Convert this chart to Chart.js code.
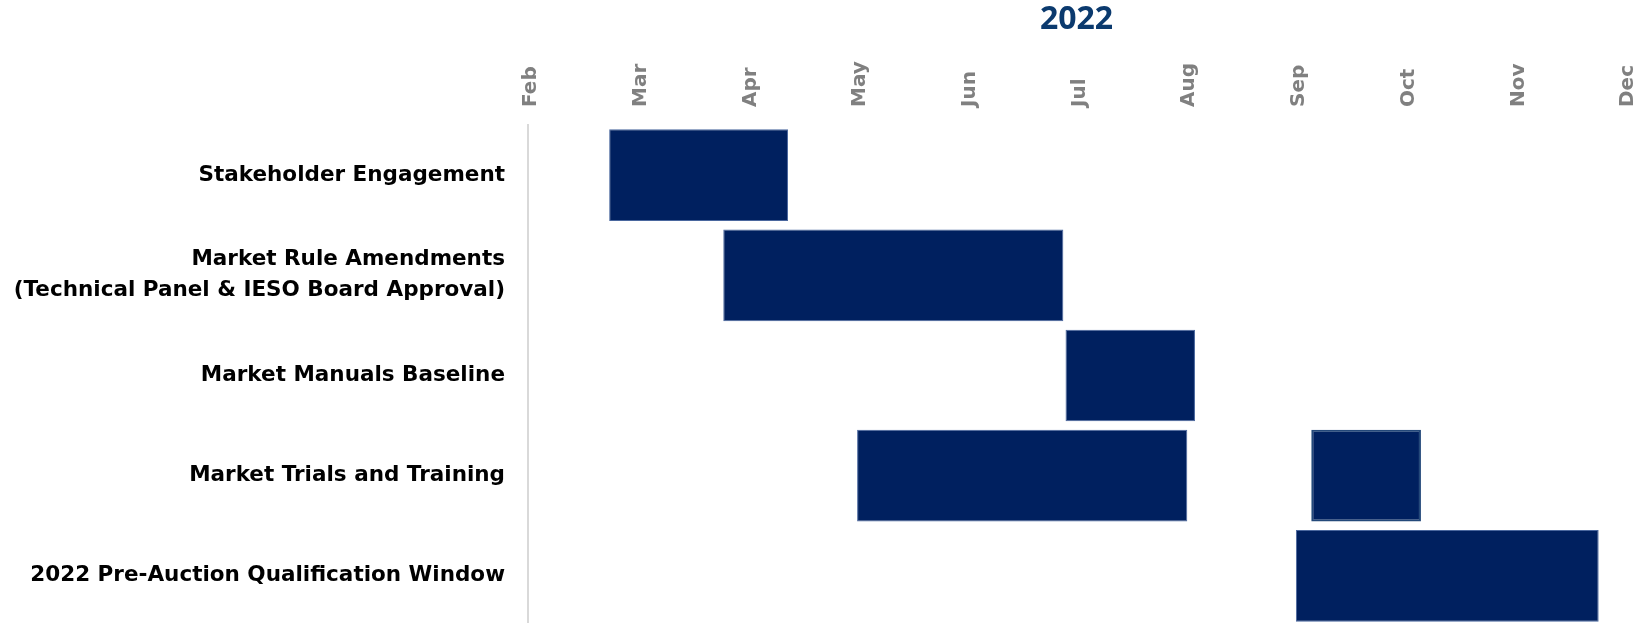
<!DOCTYPE html>
<html>
<head>
<meta charset="utf-8">
<script src="https://cdn.jsdelivr.net/npm/chart.js@4.4.1/dist/chart.umd.min.js"></script>
<style>
  html, body { margin: 0; padding: 0; background: #ffffff; overflow: hidden; }
  #wrap { position: relative; width: 1643px; height: 628px; }
</style>
</head>
<body>
<div id="wrap"><canvas id="c"></canvas></div>
<script>
// ---- data ----
const titleText = "2022";
const monthLabels = ["Feb", "Mar", "Apr", "May", "Jun", "Jul", "Aug", "Sep", "Oct", "Nov", "Dec"];
const categories = [
  "Stakeholder Engagement",
  ["Market Rule Amendments", "(Technical Panel & IESO Board Approval)"],
  "Market Manuals Baseline",
  "Market Trials and Training",
  "2022 Pre-Auction Qualification Window"
];
// values in months from start of Feb (0 = Feb, 10 = Dec)
const mainStart = [0.74, 1.78, 4.90, 3.00, 7.00];
const mainEnd   = [2.37, 4.88, 6.08, 6.01, 9.76];
const extraStart = [null, null, null, 7.14, null];
const extraEnd   = [null, null, null, 8.14, null];

const mainData = mainStart.map((s, i) => [s, mainEnd[i]]);
const extraData = extraStart.map((s, i) => (s === null ? null : [s, extraEnd[i]]));

new Chart(document.getElementById('c'), {
  type: 'bar',
  data: {
    labels: categories,
    datasets: [
      {
        label: 'Main',
        data: mainData,
        backgroundColor: '#00205f',
        borderColor: '#4a679e',
        borderWidth: 1,
        borderSkipped: false,
        grouped: false,
        barPercentage: 0.915,
        categoryPercentage: 1.0
      },
      {
        label: 'Extra',
        data: extraData,
        backgroundColor: '#00205f',
        borderColor: '#24497a',
        borderWidth: 2,
        borderSkipped: false,
        grouped: false,
        barPercentage: 0.915,
        categoryPercentage: 1.0
      }
    ]
  },
  options: {
    indexAxis: 'y',
    responsive: true,
    maintainAspectRatio: false,
    animation: false,
    layout: { padding: { top: 0, right: 17, bottom: 2, left: 0 } },
    plugins: {
      legend: { display: false },
      tooltip: { enabled: false },
      title: {
        display: true,
        text: titleText,
        fullSize: false,
        color: '#0b3a6e',
        font: { family: "'Open Sans', sans-serif", size: 32, weight: 'bold', lineHeight: 1.25 },
        padding: { top: 0, bottom: 0 }
      }
    },
    scales: {
      x: {
        type: 'linear',
        position: 'top',
        min: 0,
        max: 10,
        grid: { display: false, drawTicks: false },
        border: { display: false },
        afterFit: (scale) => { scale.height = 85; },
        afterBuildTicks: (scale) => {
          scale.ticks = monthLabels.map((m, i) => ({ value: i }));
        },
        ticks: {
          autoSkip: false,
          minRotation: 90,
          maxRotation: 90,
          padding: 18,
          labelOffset: 27,
          color: '#808080',
          font: { family: "'DejaVu Sans', sans-serif", size: 20, weight: 'bold' },
          callback: (v) => monthLabels[Math.round(v)]
        }
      },
      y: {
        grid: { display: false, drawTicks: false },
        border: { display: true, color: '#d9d9d9', width: 2 },
        afterFit: (scale) => {
          scale.width = 528;
          scale.paddingTop = 0;
          scale.paddingBottom = 0;
        },
        ticks: {
          padding: 23,
          color: '#000000',
          font: { family: "'DejaVu Sans', sans-serif", size: 21.5, weight: 'bold', lineHeight: 1.45 }
        }
      }
    }
  }
});
</script>
</body>
</html>
